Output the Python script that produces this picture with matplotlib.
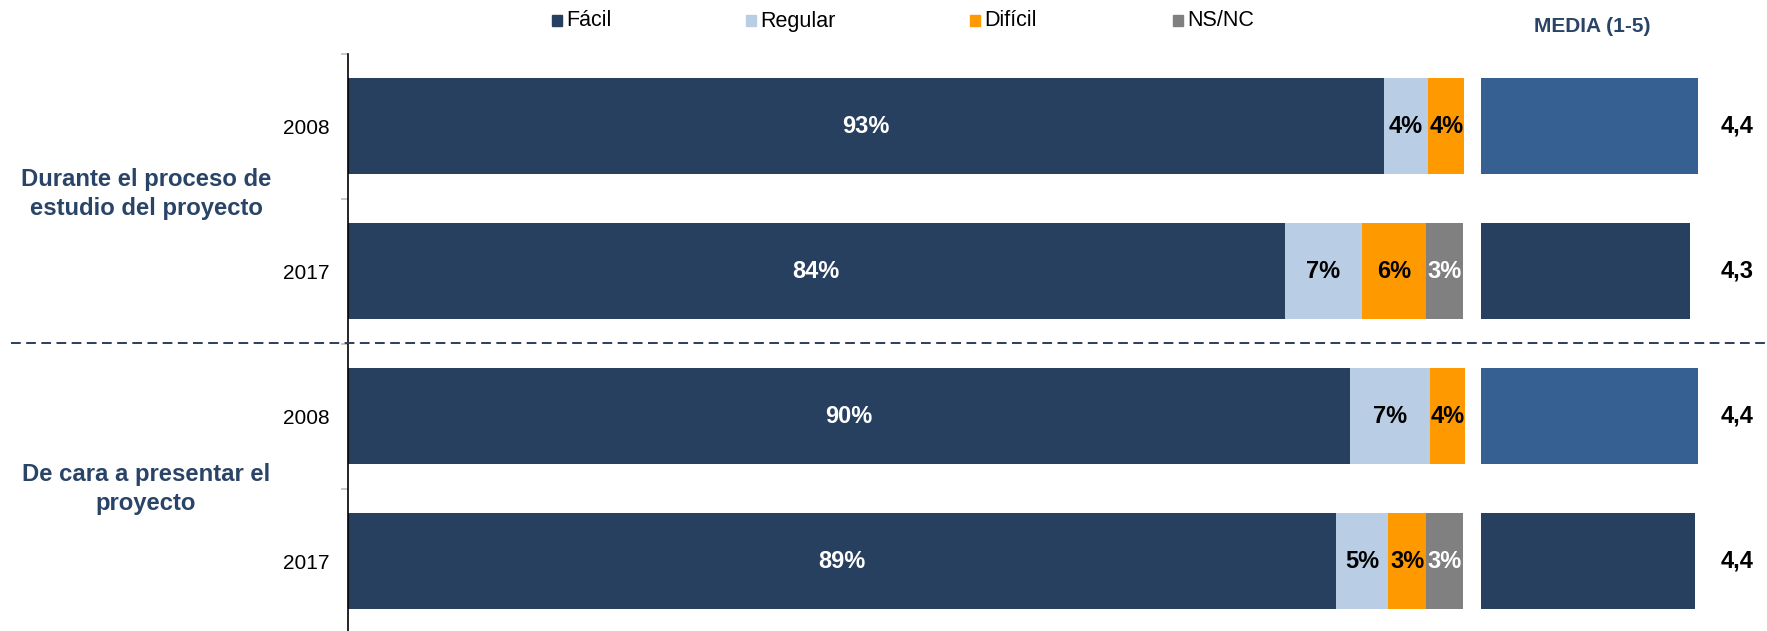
import matplotlib
matplotlib.use("Agg")
import matplotlib.pyplot as plt
from matplotlib.lines import Line2D
from matplotlib.patches import Rectangle

plt.rcParams['font.family'] = ['Liberation Sans', 'DejaVu Sans']

# ---- data ----
years = ["2008", "2017", "2008", "2017"]
groups = ["Durante el proceso de\nestudio del proyecto", "De cara a presentar el\nproyecto"]
series = ["Fácil", "Regular", "Difícil", "NS/NC"]
facil = [92.9, 84.0, 89.9, 88.6]
regular = [4.0, 6.9, 7.1, 4.7]
dificil = [3.2, 5.8, 3.2, 3.4]
nsnc = [0.0, 3.3, 0.0, 3.3]
facil_lbl = ["93%", "84%", "90%", "89%"]
regular_lbl = ["4%", "7%", "7%", "5%"]
dificil_lbl = ["4%", "6%", "4%", "3%"]
nsnc_lbl = ["", "3%", "", "3%"]
media = [4.43, 4.27, 4.43, 4.37]
media_lbl = ["4,4", "4,3", "4,4", "4,4"]

colors = ["#27405F", "#B9CDE5", "#FF9900", "#808080"]
lbl_colors = ["white", "black", "black", "white"]
media_colors = ["#366092", "#27405F", "#366092", "#27405F"]
navy_txt = "#2A4468"

W, H = 1767, 631
fig = plt.figure(figsize=(W / 100, H / 100), dpi=100)

top_px = 53.5
ax_bottom = 0.0
ax_height = (H - top_px) / H
ylim = (3.48, -0.5)

ax = fig.add_axes([348 / W, ax_bottom, (1463 - 348) / W, ax_height])
ypos = list(range(len(years)))
vals = [facil, regular, dificil, nsnc]
lbls = [facil_lbl, regular_lbl, dificil_lbl, nsnc_lbl]
left = [0.0] * len(years)
for s, (v, lb) in enumerate(zip(vals, lbls)):
    ax.barh(ypos, v, left=left, height=0.66, color=colors[s], clip_on=False)
    for i in range(len(years)):
        if lb[i]:
            ax.text(left[i] + v[i] / 2, ypos[i], lb[i], ha='center', va='center',
                    fontsize=17, fontweight='bold', color=lbl_colors[s])
    left = [l + x for l, x in zip(left, v)]

ax.set_xlim(0, 100)
ax.set_ylim(*ylim)
for sp in ['top', 'right', 'bottom']:
    ax.spines[sp].set_visible(False)
ax.spines['left'].set_linewidth(1.2)
ax.spines['left'].set_color('black')
ax.set_xticks([])
ax.set_yticks(ypos)
ax.set_yticklabels(years, fontsize=15)
ax.tick_params(axis='y', which='major', length=0, pad=13)
ax.set_yticks([-0.5, 0.5, 1.5, 2.5], minor=True)
ax.tick_params(axis='y', which='minor', length=5, width=1.2, color='#BFBFBF', direction='out')

# media axes
axm = fig.add_axes([1481 / W, ax_bottom, 245 / W, ax_height])
axm.barh(ypos, media, height=0.66, color=media_colors)
for i in range(len(years)):
    axm.text(5.22, ypos[i], media_lbl[i], ha='center', va='center',
             fontsize=17, fontweight='bold', color='black', clip_on=False)
axm.set_xlim(0, 5)
axm.set_ylim(*ylim)
axm.axis('off')

# group labels
fig.text(146 / W, 1 - 194 / H, groups[0], ha='center', va='center', fontsize=17.2,
         fontweight='bold', color=navy_txt, linespacing=1.38)
fig.text(146 / W, 1 - 489 / H, groups[1], ha='center', va='center', fontsize=17.2,
         fontweight='bold', color=navy_txt, linespacing=1.38)

# dashed separator
fig.add_artist(Line2D([11 / W, 1.0], [1 - 343 / H, 1 - 343 / H], transform=fig.transFigure,
                      color='#27405F', lw=1.4, linestyle=(0, (5.0, 2.8))))

# legend
leg_x = [552, 746, 970, 1173]
for s, name in enumerate(series):
    fig.add_artist(Rectangle((leg_x[s] / W, 1 - 26 / H), 10 / W, 11 / H,
                             transform=fig.transFigure, color=colors[s]))
    fig.text((leg_x[s] + 14) / W, 1 - 21 / H, name, ha='left', va='center', fontsize=15.5, color='black')

fig.text(1592 / W, 1 - 27 / H, "MEDIA (1-5)", ha='center', va='center', fontsize=15,
         fontweight='bold', color=navy_txt)

fig.savefig("out.png", dpi=100)
